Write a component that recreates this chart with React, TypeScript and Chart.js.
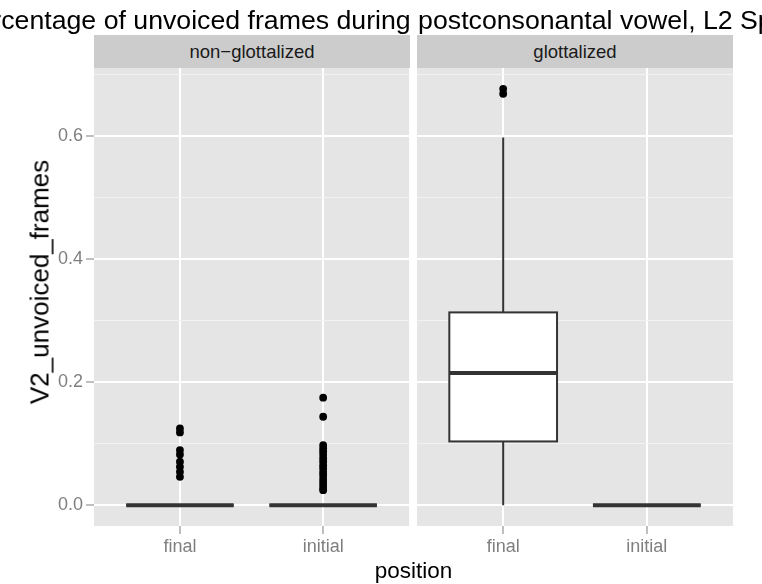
import React, { useEffect, useRef } from 'react';
import { Chart, registerables } from 'chart.js';

Chart.register(...registerables);

const FONT = '"Liberation Sans", Arial, Helvetica, sans-serif';

const TITLE = 'Percentage of unvoiced frames during postconsonantal vowel, L2 Spkrs';
const X_TITLE = 'position';
const Y_TITLE = 'V2_unvoiced_frames';
const FACETS = ['non−glottalized', 'glottalized'];
const POSITIONS = ['final', 'initial'];

// y axis: breaks every 0.1, labelled every 0.2
const Y_TICKS = [0, 0.1, 0.2, 0.3, 0.4, 0.5, 0.6, 0.7];
const Y_MIN = -0.0338;
const Y_MAX = 0.7098;

// five-number summaries per position: [lower whisker, Q1, median, Q3, upper whisker]
const NON_GLOTTALIZED_FINAL_BOX = [0, 0, 0, 0, 0];
const NON_GLOTTALIZED_INITIAL_BOX = [0, 0, 0, 0, 0];
const GLOTTALIZED_FINAL_BOX = [0, 0.1035, 0.2146, 0.313, 0.597];
const GLOTTALIZED_INITIAL_BOX = [0, 0, 0, 0, 0];

// outlying observations
const NON_GLOTTALIZED_FINAL_OUTLIERS = [0.1247, 0.1182, 0.0894, 0.0824, 0.0705, 0.0623, 0.0542, 0.046];
const NON_GLOTTALIZED_INITIAL_OUTLIERS = [
  0.1745, 0.1436, 0.0976, 0.092, 0.087, 0.082, 0.076, 0.071, 0.065, 0.06, 0.054, 0.049, 0.043,
  0.038, 0.033, 0.028, 0.0244,
];
const GLOTTALIZED_FINAL_OUTLIERS = [0.676, 0.668];
const GLOTTALIZED_INITIAL_OUTLIERS: number[] = [];

const BOX_WIDTH = 0.75;

const isMajor = (v: number) => Math.round(v * 10) % 2 === 0;

type FacetProps = {
  boxes: number[][];
  outliers: number[][];
  showYAxis: boolean;
  width: number;
  padLeft: number;
  padRight: number;
};

function Facet({ boxes, outliers, showYAxis, width, padLeft, padRight }: FacetProps) {
  const ref = useRef<HTMLCanvasElement | null>(null);

  useEffect(() => {
    if (!ref.current) return;

    const panelBackground = {
      id: 'panelBackground',
      beforeDraw(chart: any) {
        const { ctx, chartArea: a } = chart;
        ctx.save();
        ctx.fillStyle = '#E5E5E5';
        ctx.fillRect(a.left, a.top, a.right - a.left, a.bottom - a.top);
        ctx.restore();
      },
    };

    const boxPlot = {
      id: 'boxPlot',
      beforeDatasetsDraw(chart: any) {
        const { ctx } = chart;
        const x = chart.scales.x;
        const y = chart.scales.y;
        ctx.save();
        ctx.strokeStyle = '#333333';
        boxes.forEach((s, i) => {
          const cx = x.getPixelForValue(i + 1);
          const left = x.getPixelForValue(i + 1 - BOX_WIDTH / 2);
          const right = x.getPixelForValue(i + 1 + BOX_WIDTH / 2);
          const [lo, q1, med, q3, hi] = s.map((v) => y.getPixelForValue(v));
          ctx.lineWidth = 2;
          ctx.beginPath();
          ctx.moveTo(cx, hi);
          ctx.lineTo(cx, q3);
          ctx.moveTo(cx, q1);
          ctx.lineTo(cx, lo);
          ctx.stroke();
          ctx.fillStyle = '#FFFFFF';
          ctx.fillRect(left, q3, right - left, q1 - q3);
          ctx.strokeRect(left, q3, right - left, q1 - q3);
          ctx.lineWidth = 4;
          ctx.beginPath();
          ctx.moveTo(left, med);
          ctx.lineTo(right, med);
          ctx.stroke();
        });
        ctx.restore();
      },
    };

    const points = outliers.flatMap((vals, i) => vals.map((v) => ({ x: i + 1, y: v })));

    const chart = new Chart(ref.current, {
      type: 'scatter',
      data: {
        datasets: [
          {
            data: points,
            pointRadius: 3.9,
            pointHoverRadius: 3.9,
            pointBackgroundColor: '#000000',
            pointBorderWidth: 0,
          },
        ],
      },
      options: {
        animation: false,
        responsive: false,
        events: [],
        layout: { padding: { left: padLeft, right: padRight, top: 68, bottom: 0 } },
        plugins: {
          legend: { display: false },
          tooltip: { enabled: false },
          title: { display: false },
        },
        scales: {
          x: {
            type: 'linear',
            min: 0.4,
            max: 2.6,
            afterBuildTicks: (s: any) => {
              s.ticks = POSITIONS.map((_, i) => ({ value: i + 1 }));
            },
            afterFit: (s: any) => {
              s.height = 58;
            },
            ticks: {
              callback: (v: any) => POSITIONS[Math.round(v) - 1] ?? '',
              color: '#7F7F7F',
              font: { family: FONT, size: 18 },
              padding: 2,
              maxRotation: 0,
              autoSkip: false,
            },
            grid: {
              color: '#FFFFFF',
              lineWidth: 2,
              tickColor: '#7F7F7F',
              tickLength: 8,
              tickWidth: 1,
            },
            border: { display: false },
          },
          y: {
            type: 'linear',
            min: Y_MIN,
            max: Y_MAX,
            afterBuildTicks: (s: any) => {
              s.ticks = Y_TICKS.map((v) => ({ value: v }));
            },
            afterFit: (s: any) => {
              s.width = showYAxis ? 94 : 0;
            },
            ticks: {
              display: showYAxis,
              callback: (v: any) => (isMajor(v) ? Number(v).toFixed(1) : ''),
              color: '#7F7F7F',
              font: { family: FONT, size: 18 },
              padding: 3,
              autoSkip: false,
            },
            grid: {
              color: (c: any) => (c.tick && !isMajor(c.tick.value) ? '#F2F2F2' : '#FFFFFF'),
              lineWidth: (c: any) => (c.tick && !isMajor(c.tick.value) ? 1 : 2),
              tickColor: (c: any) => (c.tick && isMajor(c.tick.value) ? '#7F7F7F' : 'rgba(0,0,0,0)'),
              drawTicks: showYAxis,
              tickLength: 8,
              tickWidth: 1,
            },
            border: { display: false },
          },
        },
      },
      plugins: [panelBackground, boxPlot],
    } as any);

    return () => chart.destroy();
  }, [boxes, outliers, showYAxis, padLeft, padRight]);

  return <canvas ref={ref} width={width} height={584} style={{ display: 'block', width, height: 584 }} />;
}

const stripStyle = (left: number): React.CSSProperties => ({
  position: 'absolute',
  left,
  top: 35,
  width: 316,
  height: 33,
  background: '#CCCCCC',
  color: '#1A1A1A',
  font: `18.5px ${FONT}`,
  display: 'flex',
  alignItems: 'center',
  justifyContent: 'center',
});

const LEFT_BOXES = [NON_GLOTTALIZED_FINAL_BOX, NON_GLOTTALIZED_INITIAL_BOX];
const LEFT_OUTLIERS = [NON_GLOTTALIZED_FINAL_OUTLIERS, NON_GLOTTALIZED_INITIAL_OUTLIERS];
const RIGHT_BOXES = [GLOTTALIZED_FINAL_BOX, GLOTTALIZED_INITIAL_BOX];
const RIGHT_OUTLIERS = [GLOTTALIZED_FINAL_OUTLIERS, GLOTTALIZED_INITIAL_OUTLIERS];

export default function App() {
  return (
    <div
      style={{
        position: 'absolute',
        left: 0,
        top: 0,
        width: 762,
        height: 584,
        overflow: 'hidden',
        background: '#FFFFFF',
        fontFamily: FONT,
      }}
    >
      <div style={{ position: 'absolute', left: 0, top: 0 }}>
        <Facet boxes={LEFT_BOXES} outliers={LEFT_OUTLIERS} showYAxis width={413} padLeft={0} padRight={3} />
      </div>
      <div style={{ position: 'absolute', left: 413, top: 0 }}>
        <Facet boxes={RIGHT_BOXES} outliers={RIGHT_OUTLIERS} showYAxis={false} width={349} padLeft={4} padRight={29} />
      </div>
      <div style={stripStyle(94)}>{FACETS[0]}</div>
      <div style={stripStyle(417)}>{FACETS[1]}</div>
      <div
        style={{
          position: 'absolute',
          left: 384,
          top: 5,
          transform: 'translateX(-50%)',
          whiteSpace: 'nowrap',
          font: `26.7px ${FONT}`,
          color: '#000000',
        }}
      >
        {TITLE}
      </div>
      <div
        style={{
          position: 'absolute',
          left: 413.5,
          top: 571,
          transform: 'translate(-50%, -50%)',
          whiteSpace: 'nowrap',
          font: `22.5px ${FONT}`,
          color: '#000000',
        }}
      >
        {X_TITLE}
      </div>
      <div
        style={{
          position: 'absolute',
          left: 40,
          top: 282,
          transform: 'translate(-50%, -50%) rotate(-90deg)',
          whiteSpace: 'nowrap',
          font: `26px ${FONT}`,
          color: '#000000',
        }}
      >
        {Y_TITLE}
      </div>
    </div>
  );
}
